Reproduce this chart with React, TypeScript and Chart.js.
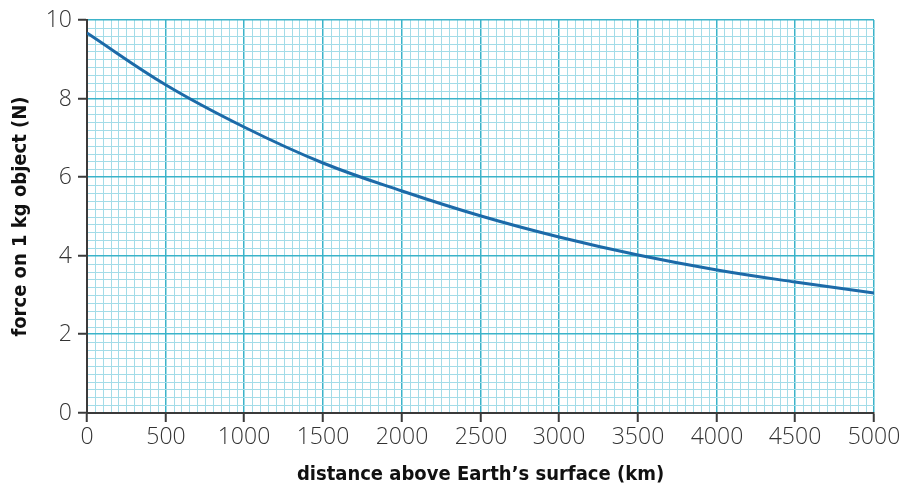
import React, { useEffect, useRef } from "react";
import { Chart, registerables } from "chart.js";

Chart.register(...registerables);

const distancesKm = [0, 500, 1000, 1500, 2000, 2500, 3000, 3500, 4000, 4500, 5000];
const forceN = [9.68, 8.35, 7.27, 6.36, 5.65, 5.02, 4.48, 4.03, 3.64, 3.33, 3.05];

const xTitle = "distance above Earth\u2019s surface (km)";
const yTitle = "force on 1 kg object (N)";

const MAJOR = "#3bb3c9";
const MINOR = "#a3dce8";
const AXIS = "#3a3a3a";
const LINE = "#1c6aa8";

const isMajorX = (c: any) => !!c.tick && Math.round(c.tick.value) % 500 === 0;
const isMajorY = (c: any) => !!c.tick && Math.round(c.tick.value * 10) % 20 === 0;

export default function App() {
  const ref = useRef<HTMLCanvasElement>(null);
  useEffect(() => {
    const canvas = ref.current!;
    const chart = new Chart(canvas, {
      type: "line",
      data: {
        datasets: [
          {
            data: distancesKm.map((x, i) => ({ x, y: forceN[i] })),
            borderColor: LINE,
            borderWidth: 3,
            pointRadius: 0,
            tension: 0.4,
          },
        ],
      },
      options: {
        animation: false,
        responsive: false,
        devicePixelRatio: 1,
        layout: { padding: { left: 0, right: 27, top: 20, bottom: 0 } },
        plugins: { legend: { display: false }, tooltip: { enabled: false } },
        scales: {
          x: {
            type: "linear",
            min: 0,
            max: 5000,
            alignToPixels: true,
            afterFit: (s: any) => { s.height = 74; s.paddingLeft = 0; s.paddingRight = 0; },
            border: { color: AXIS, width: 2 },
            grid: {
              color: (c: any) => (isMajorX(c) ? MAJOR : MINOR),
              lineWidth: (c: any) => (isMajorX(c) ? 1.5 : 1),
              tickColor: (c: any) => (isMajorX(c) ? AXIS : "rgba(0,0,0,0)"),
              tickLength: 9,
              tickWidth: 2,
            },
            ticks: {
              stepSize: 50,
              autoSkip: false,
              maxRotation: 0,
              padding: 2,
              color: "#333",
              font: { family: "'Open Sans', sans-serif", size: 23, weight: "300" },
              callback: (v: any) => (Math.round(v) % 500 === 0 ? String(Math.round(v)) : ""),
            },
            title: {
              display: true,
              text: xTitle,
              color: "#111",
              padding: { top: 0, bottom: 0 },
              font: { family: "'Liberation Sans Narrow', 'DejaVu Sans Condensed', sans-serif", size: 20, weight: "bold" },
            },
          },
          y: {
            type: "linear",
            min: 0,
            max: 10,
            alignToPixels: true,
            afterFit: (s: any) => { s.width = 87; s.paddingTop = 0; s.paddingBottom = 0; },
            border: { color: AXIS, width: 2 },
            grid: {
              color: (c: any) => (isMajorY(c) ? MAJOR : MINOR),
              lineWidth: (c: any) => (isMajorY(c) ? 1.5 : 1),
              tickColor: (c: any) => (isMajorY(c) ? AXIS : "rgba(0,0,0,0)"),
              tickLength: 9,
              tickWidth: 2,
            },
            ticks: {
              stepSize: 0.2,
              autoSkip: false,
              padding: 6,
              color: "#333",
              font: { family: "'Open Sans', sans-serif", size: 23, weight: "300" },
              callback: (v: any) => {
                const r = Math.round(v * 10);
                return r % 20 === 0 ? String(r / 10) : "";
              },
            },
            title: {
              display: true,
              text: yTitle,
              color: "#111",
              padding: { top: 9, bottom: 0 },
              font: { family: "'Liberation Sans Narrow', 'DejaVu Sans Condensed', sans-serif", size: 20, weight: "bold" },
            },
          },
        },
      },
    } as any);
    return () => chart.destroy();
  }, []);
  return (
    <div style={{ position: "absolute", left: 0, top: 0, width: 901, height: 487, background: "#fff" }}>
      <canvas ref={ref} width={901} height={487} style={{ width: 901, height: 487 }} />
    </div>
  );
}
